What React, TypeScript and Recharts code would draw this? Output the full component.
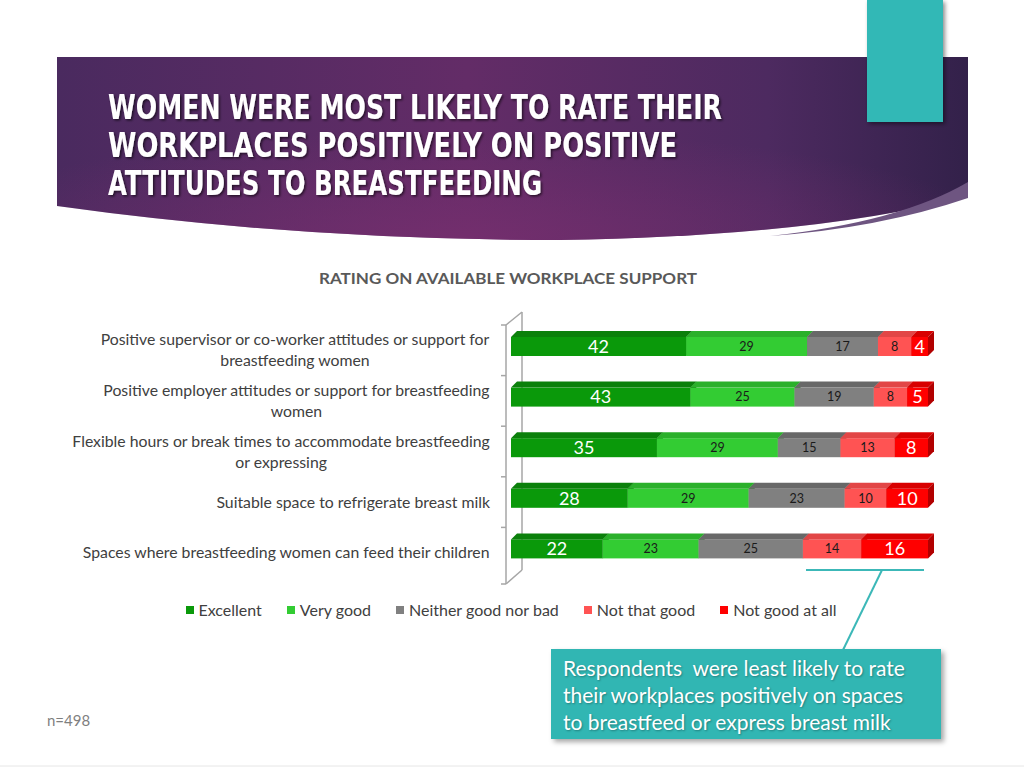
import { BarChart, Bar, XAxis, YAxis, Legend, LabelList } from 'recharts'

const categories = [
  'Positive supervisor or co-worker attitudes or support for\nbreastfeeding women',
  'Positive employer attitudes or support for breastfeeding\nwomen',
  'Flexible hours or break times to accommodate breastfeeding\nor expressing',
  'Suitable space to refrigerate breast milk',
  'Spaces where breastfeeding women can feed their children',
]
const excellent = [42, 43, 35, 28, 22]
const veryGood = [29, 25, 29, 29, 23]
const neither = [17, 19, 15, 23, 25]
const notThatGood = [8, 8, 13, 10, 14]
const notGoodAtAll = [4, 5, 8, 10, 16]
const seriesNames = ['Excellent', 'Very good', 'Neither good nor bad', 'Not that good', 'Not good at all']

const titleLines = ['WOMEN WERE MOST LIKELY TO RATE THEIR', 'WORKPLACES POSITIVELY ON POSITIVE', 'ATTITUDES TO BREASTFEEDING']
const chartTitle = 'RATING ON AVAILABLE WORKPLACE SUPPORT'
const calloutLines = ['Respondents  were least likely to rate', 'their workplaces positively on spaces', 'to breastfeed or express breast milk']
const sampleNote = 'n=498'

// colours per series: front face, top face, side face
const SERIES = [
  { key: 'excellent', color: '#0a990a', top: '#0b800b', side: '#076807', big: true },
  { key: 'veryGood', color: '#33cc33', top: '#2bb02b', side: '#219521', big: false },
  { key: 'neither', color: '#808080', top: '#686868', side: '#575757', big: false },
  { key: 'notThatGood', color: '#ff5353', top: '#e24646', side: '#c53a3a', big: false },
  { key: 'notGoodAtAll', color: '#ff0000', top: '#d80000', side: '#b20000', big: true },
]

const rows = categories.map((name, i) => ({
  name,
  excellent: excellent[i],
  veryGood: veryGood[i],
  neither: neither[i],
  notThatGood: notThatGood[i],
  notGoodAtAll: notGoodAtAll[i],
}))

const W = 1024
const H = 768
const MARGIN = { top: 325, right: 96, bottom: 190, left: 0 }
const AXIS_W = 511
const DEPTH = 6
const LIFT = 4
const FONT = 'Lato, "Open Sans", sans-serif'
const CAT_SIZE = 15.8

let measureCtx: CanvasRenderingContext2D | null = null
function textWidth(str: string, font: string) {
  if (!measureCtx) measureCtx = document.createElement('canvas').getContext('2d')
  if (!measureCtx) return str.length * 7
  measureCtx.font = font
  return measureCtx.measureText(str).width
}

function CategoryTick(props: any) {
  const { x, y, payload } = props
  const lines = String(payload.value).split('\n')
  const widest = Math.max(...lines.map((l) => textWidth(l, `${CAT_SIZE}px ${FONT}`)))
  const cx = x - widest / 2
  const lh = 21
  const startY = y - ((lines.length - 1) * lh) / 2
  return (
    <g>
      {lines.map((l, i) => (
        <text key={i} x={cx} y={startY + i * lh} dy="0.35em" textAnchor="middle" fill="#404040" fontSize={CAT_SIZE} fontFamily={FONT}>
          {l}
        </text>
      ))}
    </g>
  )
}

function Bar3D(props: any) {
  const { x, y, width, height, s } = props
  if (!width || width <= 0) return null
  const t = y - LIFT
  const b = t + height
  const r = x + width
  return (
    <g>
      <rect x={x} y={t} width={width} height={height} fill={s.color} />
      <polygon points={`${x},${t} ${x + DEPTH},${t - DEPTH} ${r + DEPTH},${t - DEPTH} ${r},${t}`} fill={s.top} />
      <polygon points={`${r},${t} ${r + DEPTH},${t - DEPTH} ${r + DEPTH},${b - DEPTH} ${r},${b}`} fill={s.side} />
    </g>
  )
}

function SegLabel(props: any) {
  const { x, y, width, height, value, s } = props
  return (
    <text
      x={x + width / 2}
      y={y + height / 2 - LIFT}
      dy="0.35em"
      textAnchor="middle"
      fill={s.big ? '#ffffff' : '#1a1a1a'}
      fontSize={s.big ? 18 : 12.5}
      fontFamily={FONT}
    >
      {value}
    </text>
  )
}

function LegendContent(props: any) {
  const items = [...(props.payload || [])].sort(
    (a: any, b: any) => seriesNames.indexOf(a.value) - seriesNames.indexOf(b.value)
  )
  return (
    <div style={{ display: 'flex', justifyContent: 'center', gap: 25, fontFamily: FONT, fontSize: 16, color: '#404040', lineHeight: '20px' }}>
      {items.map((e: any) => (
        <span key={e.value} style={{ display: 'inline-flex', alignItems: 'center' }}>
          <span style={{ width: 8, height: 8, background: e.color, marginRight: 5, display: 'inline-block' }} />
          {e.value}
        </span>
      ))}
    </div>
  )
}

function Wall() {
  const plotTop = MARGIN.top
  const plotBottom = H - MARGIN.bottom
  const band = (plotBottom - plotTop) / categories.length
  const fx = AXIS_W - 5
  const bx = AXIS_W + 11
  const ticks = categories.map((_, i) => plotTop + i * band).concat([plotBottom + 6])
  return (
    <g stroke="#a6a6a6" strokeWidth={1.5} fill="none">
      <line x1={fx} y1={plotTop} x2={fx} y2={plotBottom + 6} />
      <line x1={bx} y1={plotTop - 13} x2={bx} y2={plotBottom - 8} />
      <line x1={fx} y1={plotTop} x2={bx} y2={plotTop - 13} />
      <line x1={fx} y1={plotBottom + 6} x2={bx} y2={plotBottom - 8} />
      {ticks.map((ty, i) => (
        <line key={i} x1={fx - 5} y1={ty} x2={fx} y2={ty} />
      ))}
    </g>
  )
}

export default function App() {
  return (
    <div style={{ position: 'absolute', left: 0, top: 0, width: W, height: H, overflow: 'hidden', background: '#ffffff' }}>
      <svg width={W} height={H} style={{ position: 'absolute', left: 0, top: 0 }}>
        <defs>
          <linearGradient id="ban" x1="0" y1="0" x2="1" y2="0">
            <stop offset="0" stopColor="#4a2a5f" />
            <stop offset="0.45" stopColor="#632c67" />
            <stop offset="0.78" stopColor="#4d2a60" />
            <stop offset="1" stopColor="#33214a" />
          </linearGradient>
          <radialGradient id="glow" cx="0.45" cy="1" r="0.6">
            <stop offset="0" stopColor="#7a2f70" stopOpacity="0.7" />
            <stop offset="1" stopColor="#7a2f70" stopOpacity="0" />
          </radialGradient>
          <filter id="tsh" x="-5%" y="-20%" width="110%" height="150%">
            <feDropShadow dx="1.5" dy="1.5" stdDeviation="1" floodColor="#000" floodOpacity="0.6" />
          </filter>
          <filter id="bsh" x="-10%" y="-10%" width="130%" height="130%">
            <feDropShadow dx="2" dy="2" stdDeviation="2" floodColor="#000" floodOpacity="0.45" />
          </filter>
        </defs>
        <path d="M57,57 H968 V196 Q820,236 560,240 Q300,240 57,206 Z" fill="url(#ban)" />
        <path d="M57,57 H968 V196 Q820,236 560,240 Q300,240 57,206 Z" fill="url(#glow)" />
        <path d="M770,236 Q900,222 968,182 V198 Q880,228 770,236 Z" fill="#6e5581" />
        <rect x={867} y={0} width={76} height={122} fill="#33b8b6" filter="url(#bsh)" />
        {titleLines.map((l, i) => (
          <text
            key={i}
            x={108}
            y={119 + i * 38}
            fill="#ffffff"
            fontSize={33}
            fontWeight="bold"
            fontFamily='"Liberation Sans Narrow", "DejaVu Sans Condensed", "Liberation Sans", sans-serif'
            textLength={[614, 569, 434][i]}
            lengthAdjust="spacingAndGlyphs"
            filter="url(#tsh)"
          >
            {l}
          </text>
        ))}
        <text x={319} y={284} fill="#595959" fontSize={16} fontWeight="bold" fontFamily={FONT} textLength={378} lengthAdjust="spacingAndGlyphs">
          {chartTitle}
        </text>
        <Wall />
        <g stroke="#3cb8b8" strokeWidth={2}>
          <line x1={806} y1={570} x2={924} y2={570} />
          <line x1={882} y1={570} x2={843} y2={650} />
        </g>
        <line x1={0} y1={766} x2={W} y2={766} stroke="#e6e6e6" strokeWidth={1} />
      </svg>

      <BarChart
        width={W}
        height={H}
        data={rows}
        layout="vertical"
        margin={MARGIN}
        style={{ position: 'absolute', left: 0, top: 0 }}
      >
        <XAxis type="number" domain={[0, 100]} hide />
        <YAxis
          type="category"
          dataKey="name"
          width={AXIS_W}
          axisLine={false}
          tickLine={false}
          tickSize={0}
          tickMargin={21}
          interval={0}
          tick={<CategoryTick />}
        />
        {SERIES.map((s, i) => (
          <Bar
            key={s.key}
            dataKey={s.key}
            name={seriesNames[i]}
            stackId="a"
            fill={s.color}
            barSize={19}
            isAnimationActive={false}
            shape={(p: any) => <Bar3D {...p} s={s} />}
          >
            <LabelList dataKey={s.key} content={(p: any) => <SegLabel {...p} s={s} />} />
          </Bar>
        ))}
        <Legend
          layout="horizontal"
          verticalAlign="middle"
          align="center"
          wrapperStyle={{ top: 600, left: 0, width: 1022 }}
          content={<LegendContent />}
        />
      </BarChart>

      <div
        style={{
          position: 'absolute',
          left: 551,
          top: 649,
          width: 390,
          height: 90,
          background: '#31b6b3',
          boxShadow: '3px 3px 5px rgba(0,0,0,0.35)',
          boxSizing: 'border-box',
          padding: '5px 0 0 12px',
          color: '#ffffff',
          fontFamily: FONT,
          fontSize: 21,
          lineHeight: '27px',
          whiteSpace: 'pre',
          textShadow: '1px 1px 2px rgba(0,0,0,0.3)',
        }}
      >
        {calloutLines.join('\n')}
      </div>
      <div style={{ position: 'absolute', left: 47, top: 710, fontFamily: FONT, fontSize: 15, color: '#7f7f7f', lineHeight: '20px' }}>
        {sampleNote}
      </div>
    </div>
  )
}
